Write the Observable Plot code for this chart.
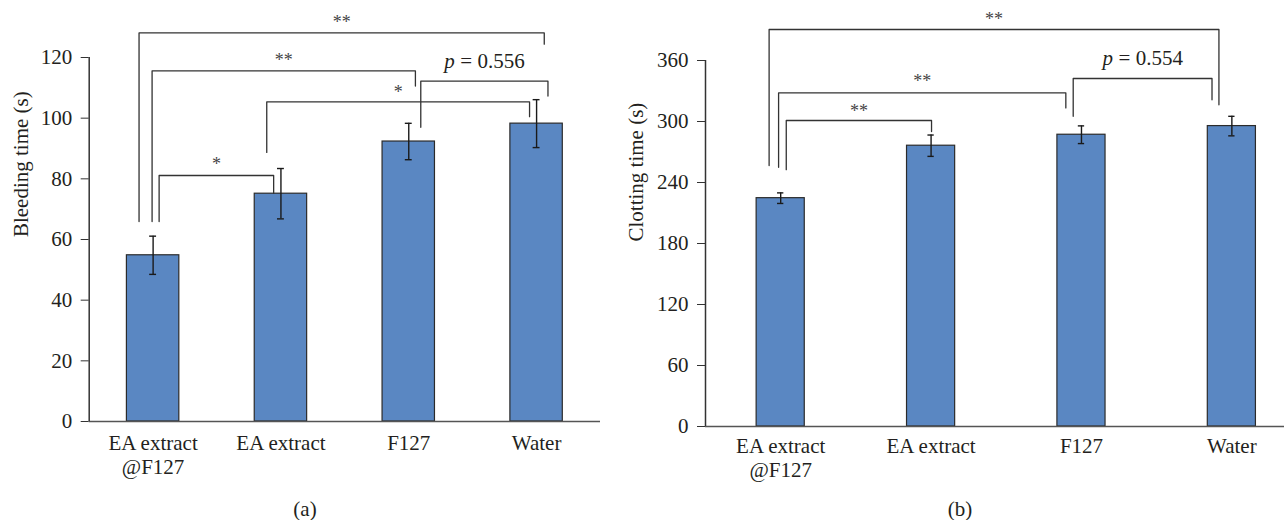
<!DOCTYPE html>
<html><head><meta charset="utf-8">
<script src="https://cdn.jsdelivr.net/npm/d3@7"></script>
<script src="https://cdn.jsdelivr.net/npm/@observablehq/plot@0.6"></script>
<style>
body{margin:0;background:#fff;width:1284px;height:520px;overflow:hidden;font-family:"Liberation Serif",serif;}
#wrap{position:relative;width:1284px;height:520px;}
#a{position:absolute;left:0;top:0;}
#b{position:absolute;left:620px;top:0;}
.cap{position:absolute;top:497px;font-size:21px;line-height:24px;color:#231f20;transform:translateX(-50%);}
</style></head><body>
<div id="wrap"><div id="a"></div><div id="b"></div>
<div class="cap" style="left:305px">(a)</div><div class="cap" style="left:960px">(b)</div></div>
<script>
// ---- data ----
const groups = ["EA extract\n@F127", "EA extract", "F127", "Water"];
const bleedMean = [54.8, 75.1, 92.3, 98.2];
const bleedErr  = [6.3, 8.3, 6.0, 7.9];
const clotMean  = [224.6, 276.2, 287.0, 295.5];
const clotErr   = [5.2, 10.5, 8.7, 9.6];
const bleedTicks = [0, 20, 40, 60, 80, 100, 120];
const clotTicks  = [0, 60, 120, 180, 240, 300, 360];
// significance brackets: group pair, bracket height, leg ends (data units), label
const bleedBrackets = [
  {from: 0, to: 3, level: 128.1, end1: 65.9, end2: 124.4, label: "**"},
  {from: 0, to: 2, level: 115.6, end1: 65.9, end2: 110.6, label: "**"},
  {from: 1, to: 3, level: 105.4, end1: 88.7, end2: 100.5, label: "*"},
  {from: 2, to: 3, level: 112.2, end1: 97.0, end2: 107.3, label: "p = 0.556"},
  {from: 0, to: 1, level: 81.1,  end1: 65.9, end2: 75.2,  label: "*"}
];
const clotBrackets = [
  {from: 0, to: 3, level: 390.5, end1: 256.7, end2: 316.4, label: "**"},
  {from: 0, to: 2, level: 328.2, end1: 254.9, end2: 313.4, label: "**"},
  {from: 0, to: 1, level: 301.0, end1: 252.6, end2: 290.2, label: "**"},
  {from: 2, to: 3, level: 342.3, end1: 305.2, end2: 321.3, label: "p = 0.554"}
];

// ---- layout (styling, not data) ----
const bleedShift = [[-0.11, 0.06], [-0.008, 0.052], [-0.111, -0.055], [0.094, 0.089], [0.047, -0.057]];
const bleedLift  = [11, 11, 10, 20, 11];
const clotShift  = [[-0.077, -0.086], [-0.014, -0.104], [0.037, 0.003], [-0.055, -0.132]];
const clotLift   = [10, 12, 9, 20];

const INK = "#231f20";
const FS = 21;

function panel(o) {
  const rows = groups.map((g, i) => ({i, m: o.means[i], e: o.errs[i]}));
  const pts = o.brackets.flatMap((b, k) => {
    const xa = b.from + o.shift[k][0], xb = b.to + o.shift[k][1];
    return [{k, x: xa, y: b.end1}, {k, x: xa, y: b.level}, {k, x: xb, y: b.level}, {k, x: xb, y: b.end2}];
  });
  const labelMarks = o.brackets.flatMap((b, k) => {
    const xm = (b.from + o.shift[k][0] + b.to + o.shift[k][1]) / 2;
    const d = [{x: xm, y: b.level}];
    if (b.label.startsWith("p")) {
      return [
        Plot.text(d, {x: "x", y: "y", text: () => "p", fontStyle: "italic", textAnchor: "start", dx: -40, dy: -o.lift[k], fill: INK, fontSize: FS}),
        Plot.text(d, {x: "x", y: "y", text: () => b.label.replace(/^p\s*/, ""), textAnchor: "start", dx: -24, dy: -o.lift[k], fill: INK, fontSize: FS})
      ];
    }
    return [Plot.text(d, {x: "x", y: "y", text: () => b.label, dy: -o.lift[k], fill: "#444", fontSize: 18, letterSpacing: "-1px"})];
  });
  return Plot.plot({
    width: o.width, height: 485,
    marginLeft: o.ml, marginRight: o.mr, marginTop: o.mt, marginBottom: o.mb,
    style: {fontFamily: "'Liberation Serif', serif", fontSize: FS + "px", color: INK, background: "#fff"},
    x: {domain: [-0.5, o.xMax], label: null},
    y: {domain: [0, o.yMax], label: null},
    marks: [
      Plot.rectY(rows, {x1: d => d.i - o.barHalf, x2: d => d.i + o.barHalf, y1: 0, y2: "m", fill: "#5a87c2", stroke: "#2b2b2b", strokeWidth: 1.2}),
      Plot.ruleX(rows, {x: "i", y1: d => d.m - d.e, y2: d => d.m + d.e, stroke: "#1a1a1a", strokeWidth: 1.4}),
      Plot.ruleY(rows, {y: d => d.m + d.e, x1: d => d.i - o.cap, x2: d => d.i + o.cap, stroke: "#1a1a1a", strokeWidth: 1.4}),
      Plot.ruleY(rows, {y: d => d.m - d.e, x1: d => d.i - o.cap, x2: d => d.i + o.cap, stroke: "#1a1a1a", strokeWidth: 1.4}),
      Plot.line(pts, {x: "x", y: "y", z: "k", stroke: "#333", strokeWidth: 1.3, curve: "linear"}),
      ...labelMarks,
      Plot.ruleY([0], {stroke: "#555", strokeWidth: 1.6}),
      Plot.ruleX([-0.5], {y1: 0, y2: o.ticks[o.ticks.length - 1], stroke: "#333", strokeWidth: 1.5}),
      Plot.axisY(o.ticks, {tickSize: 8, tickPadding: 9, stroke: "#333", fill: INK, fontSize: FS}),
      Plot.axisX([0, 1, 2, 3], {tickSize: 0, tickPadding: o.xPad, tickFormat: i => groups[i], lineHeight: 1.15, fill: INK, fontSize: FS}),
      Plot.text([o.yLabel], {text: d => d, frameAnchor: "left", y: o.yLabelY, rotate: -90, dx: o.yLabelDx, fill: INK, fontSize: FS})
    ]
  });
}

document.getElementById("a").append(panel({
  means: bleedMean, errs: bleedErr, ticks: bleedTicks, brackets: bleedBrackets, shift: bleedShift, lift: bleedLift,
  width: 620, ml: 88.7, mr: 20, mt: 2.4, mb: 64, xMax: 3.5, yMax: 138, barHalf: 0.205, cap: 0.027,
  xPad: 11, yLabel: "Bleeding time (s)", yLabelY: 60.8, yLabelDx: -67.7
}));
document.getElementById("b").append(panel({
  means: clotMean, errs: clotErr, ticks: clotTicks, brackets: clotBrackets, shift: clotShift, lift: clotLift,
  width: 664, ml: 85, mr: 0, mt: 4.1, mb: 59, xMax: 3.35, yMax: 415, barHalf: 0.16, cap: 0.021,
  xPad: 9, yLabel: "Clotting time (s)", yLabelY: 182, yLabelDx: -69
}));
</script>
</body></html>
